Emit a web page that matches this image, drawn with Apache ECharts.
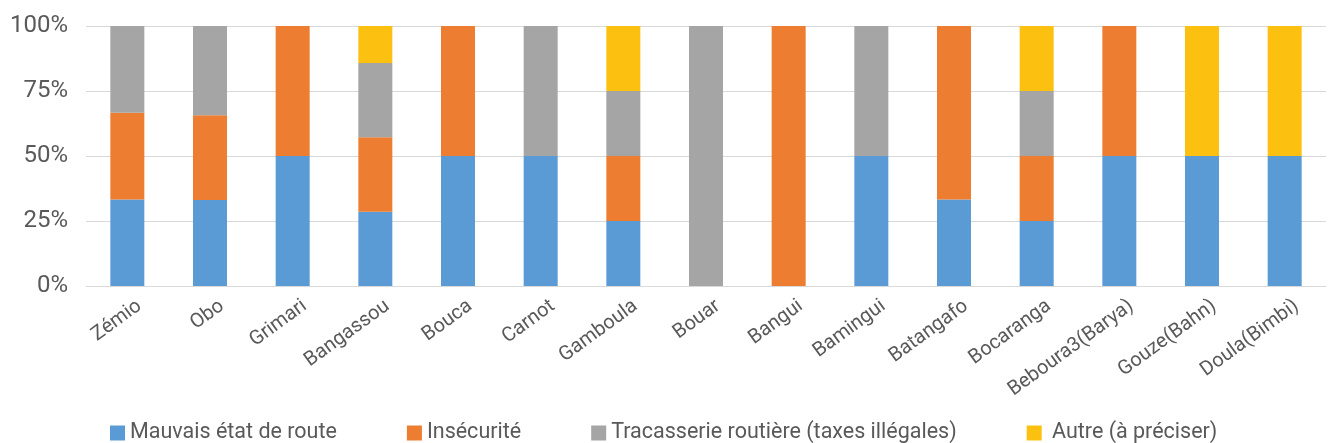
<!DOCTYPE html>
<html><head><meta charset="utf-8">
<script src="https://cdn.jsdelivr.net/npm/echarts@6/dist/echarts.min.js"></script>
<style>html,body{margin:0;padding:0;background:#fff}#c{width:1328px;height:443px}</style>
</head><body><div id="c"></div>
<script>
const categories = ["Zémio","Obo","Grimari","Bangassou","Bouca","Carnot","Gamboula","Bouar","Bangui","Bamingui","Batangafo","Bocaranga","Beboura3(Barya)","Gouze(Bahn)","Doula(Bimbi)"];
const mauvaisEtat = [33.3,33.1,50,28.6,50,50,25,0,0,50,33.3,25,50,50,50];
const insecurite  = [33.3,32.6,50,28.6,50,0,25,0,100,0,66.7,25,50,0,0];
const tracasserie = [33.4,34.3,0,28.6,0,50,25,100,0,50,0,25,0,0,0];
const autre       = [0,0,0,14.2,0,0,25,0,0,0,0,25,0,50,50];
const yTicks = [0,25,50,75,100];

const font = 'Roboto, "Open Sans", sans-serif';
const names = ["Mauvais état de route","Insécurité","Tracasserie routière (taxes illégales)"," Autre (à préciser)"];
const colors = ["#5b9bd5","#ed7d31","#a5a5a5","#fcc010"];
const datas = [mauvaisEtat, insecurite, tracasserie, autre];
const chart = echarts.init(document.getElementById('c'));
chart.setOption({
  animation:false,
  color: colors,
  grid:{left:86,right:2,top:26,bottom:157,containLabel:false},
  legend:{top:417,left:105,itemWidth:15,itemHeight:15,itemGap:70,icon:'rect',
    textStyle:{fontFamily:font,fontSize:21.5,color:'#595959'},
    data:names},
  xAxis:{type:'category',data:categories,
    axisLine:{lineStyle:{color:'#d9d9d9',width:1}},axisTick:{show:false},
    axisLabel:{rotate:36,interval:0,fontFamily:font,fontSize:20,color:'#595959',margin:27,padding:[0,-15,0,0]}},
  yAxis:{type:'value',min:0,max:100,interval:25,
    axisLabel:{formatter:v=>yTicks.includes(v)?v+'%':'',fontFamily:font,fontSize:24,color:'#595959',margin:18},
    splitLine:{lineStyle:{color:'#d9d9d9',width:1}},axisLine:{show:false},axisTick:{show:false}},
  series: names.map((n,i)=>({name:n,type:'bar',stack:'total',barWidth:34,data:datas[i],itemStyle:{color:colors[i]}}))
});
</script></body></html>
